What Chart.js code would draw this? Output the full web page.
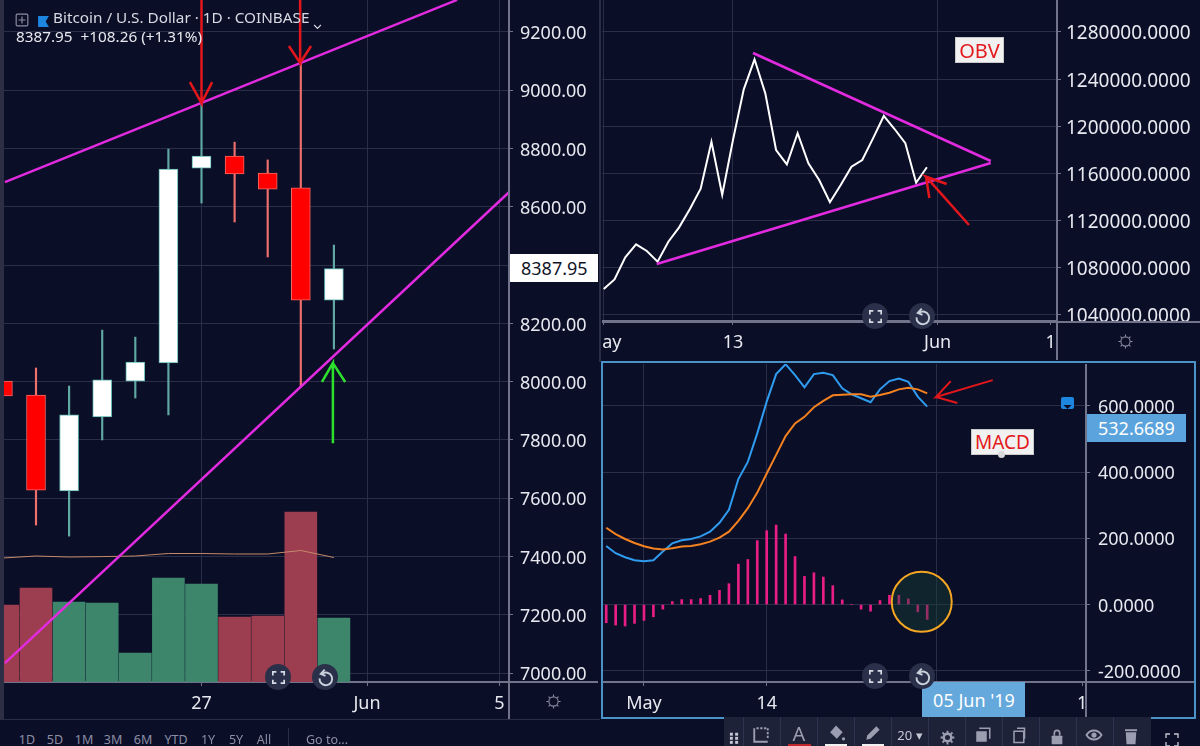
<!DOCTYPE html>
<html>
<head>
<meta charset="utf-8">
<title>BTC chart</title>
<script src="https://cdn.jsdelivr.net/npm/chart.js@4"></script>
<style>
html, body { margin: 0; padding: 0; background: #0b0e27; }
#stage { position: relative; width: 1200px; height: 746px; overflow: hidden; background: #0b0e27; font-family: "Noto Sans", sans-serif; color: #e8e9f0; }
#stage canvas { position: absolute; }
.abs { position: absolute; white-space: nowrap; }
.mid { position: absolute; white-space: nowrap; transform: translate(-50%, -50%); }
.btn { position: absolute; width: 26px; height: 26px; border-radius: 13px; background: #2a3049; transform: translate(-50%, -50%); }
.note { position: absolute; background: #f1f1f1; color: #e3191c; font-size: 20px; text-align: center; border: 1px solid #c9c9c9; box-sizing: border-box; }
</style>
</head>
<body>
<div id="stage">
  <canvas id="priceChart" style="left:4px;top:0"></canvas>
  <canvas id="obvChart" style="left:602px;top:0"></canvas>
  <canvas id="macdChart" style="left:603px;top:364px"></canvas>
</div>
<script>
// daily candles, May 2019
const candleDays = [21, 22, 23, 24, 25, 26, 27, 28, 29, 30, 31];
const opens = [8002, 7954, 7625, 7879, 8002, 8064, 8733, 8774, 8716, 8665, 8280];
const closes = [7951, 7628, 7886, 8006, 8067, 8730, 8774, 8713, 8661, 8280, 8387.95];
const highs = [8040, 8047, 7985, 8177, 8153, 8798, 8956, 8822, 8761, 9094, 8469];
const lows = [7900, 7508, 7470, 7800, 7944, 7886, 8613, 8548, 8428, 7982, 8112];
const volumes = [3850, 4700, 4000, 3950, 1450, 5200, 4900, 3250, 3300, 8500, 3200];
const volumeMa = [6200, 6300, 6250, 6270, 6300, 6425, 6425, 6400, 6400, 6575, 6225];
const priceTicks = [7000, 7200, 7400, 7600, 7800, 8000, 8200, 8400, 8600, 8800, 9000, 9200];
const priceDayTicks = [27, 32, 36];
const priceDayLabels = ['27', 'Jun', '5'];

const obvDays = [1, 2, 3, 4, 5, 6, 7, 8, 9, 10, 11, 12, 13, 14, 15, 16, 17, 18, 19, 20, 21, 22, 23, 24, 25, 26, 27, 28, 29, 30, 31];
const obvValues = [1061700, 1069800, 1088650, 1099700, 1094000, 1084900, 1101900, 1114100, 1129700, 1146900, 1186800, 1141600, 1188300, 1231300, 1256800, 1227900, 1179800, 1167600, 1194000, 1168500, 1154300, 1135400, 1150100, 1165600, 1171300, 1189700, 1208700, 1197600, 1185500, 1152000, 1165100];
const obvTicks = [1040000, 1080000, 1120000, 1160000, 1200000, 1240000, 1280000];
const obvDayTicks = [1, 13, 32, 42.5];
const obvDayLabels = ['May', '13', 'Jun', '1'];

// day 1 = 1 May, negative days run back into April
const macdDays = [-3, -2, -1, 0, 1, 2, 3, 4, 5, 6, 7, 8, 9, 10, 11, 12, 13, 14, 15, 16, 17, 18, 19, 20, 21, 22, 23, 24, 25, 26, 27, 28, 29, 30, 31];
const macdLine = [177, 155, 143, 134, 131, 134, 160, 185, 194, 198, 206, 220, 247, 286, 379, 431, 517, 613, 696, 726, 693, 656, 696, 700, 693, 653, 635, 623, 611, 650, 675, 683, 673, 628, 598];
const signalLine = [232, 213, 198, 186, 176, 169, 166, 170, 175, 177, 182, 190, 202, 220, 253, 291, 338, 396, 452, 509, 547, 567, 596, 615, 632, 634, 635, 635, 628, 633, 640, 650, 655, 650, 638];
const macdHist = [-55, -62, -65, -57, -48, -37, -14, 9, 15, 15, 18, 28, 43, 63, 122, 136, 193, 223, 240, 213, 145, 85, 96, 83, 57, 14, 0, -14, -20, 12, 28, 28, 17, -22, -45];
const macdTicks = [-200, 0, 200, 400, 600];
const macdDayTicks = [1, 14, 32, 47.4];
const macdDayLabels = ['May', '14', '', '1'];

// hand drawn lines on the charts, as [day, value]
const priceTrendUpper = [[21.06, 8685], [34.72, 9310]];
const priceTrendLower = [[21.06, 7034], [36.29, 8650]];
const priceArrowA = [[27, 9400], [27, 8956], [26.65, 9028], [27, 8956], [27.32, 9028]];
const priceArrowB = [[29.98, 9400], [29.98, 9094], [29.64, 9152], [29.98, 9094], [30.31, 9152]];
const priceArrowUp = [[30.97, 7789], [30.97, 8064], [30.64, 7999], [30.97, 8064], [31.34, 7999]];
const obvTrendUpper = [[14.86, 1262165], [36.93, 1170440]];
const obvTrendLower = [[5.92, 1082960], [36.93, 1168740]];
const obvArrow = [[34.91, 1116100], [30.92, 1157100], [32.84, 1150900], [30.92, 1157100], [31.23, 1139000]];
const macdArrow = [[37.94, 678], [31.93, 627], [33.49, 675], [31.93, 627], [34.19, 609]];
const macdCircle = [[30.42, 8.5]];

const GRID = '#2a2e49';
const AXIS = '#70738a';
const TEXT = '#e8e9f0';
const FONT = 'Noto Sans';
const MAGENTA = '#e22be0';
const ARROW_RED = '#e3171b';

function toPoints(pairs) {
    return pairs.map(p => ({ x: p[0], y: p[1] }));
}

function drawnLine(pairs, color, width, order) {
    return {
        type: 'line',
        data: toPoints(pairs),
        borderColor: color,
        borderWidth: width,
        pointRadius: 0,
        tension: 0,
        order: order
    };
}

function xAxis(min, max, ticks, labels, height, fontSize, hiddenGrid) {
    return {
        type: 'linear',
        offset: false,
        min: min,
        max: max,
        afterBuildTicks: scale => { scale.ticks = ticks.map(v => ({ value: v })); },
        afterFit: scale => { scale.height = height; scale.paddingLeft = 0; scale.paddingRight = 0; },
        border: { color: AXIS, width: 2 },
        grid: {
            offset: false,
            color: c => (c.tick && c.tick.value === hiddenGrid ? 'transparent' : GRID),
            tickColor: AXIS,
            tickLength: 4
        },
        ticks: {
            color: TEXT,
            padding: 7,
            maxRotation: 0,
            autoSkip: false,
            font: { family: FONT, size: fontSize },
            callback: v => labels[ticks.indexOf(v)]
        }
    };
}

function yAxis(min, max, ticks, width, fontSize, format, padding) {
    return {
        type: 'linear',
        position: 'right',
        min: min,
        max: max,
        afterBuildTicks: scale => { scale.ticks = ticks.map(v => ({ value: v })); },
        afterFit: scale => { scale.width = width; scale.paddingTop = 0; scale.paddingBottom = 0; },
        border: { color: AXIS, width: 2 },
        grid: { color: GRID, tickColor: AXIS, tickLength: 4 },
        ticks: {
            color: TEXT,
            padding: padding,
            autoSkip: false,
            // the empty first line nudges the text down onto its grid line
            font: { family: FONT, size: fontSize, lineHeight: '4px' },
            callback: v => ['', format(v)]
        }
    };
}

function baseOptions(scales) {
    return {
        responsive: false,
        animation: false,
        events: [],
        layout: { padding: 0, autoPadding: false },
        plugins: { legend: { display: false }, tooltip: { enabled: false } },
        scales: scales
    };
}

function setSize(id, w, h) {
    const c = document.getElementById(id);
    c.width = w;
    c.height = h;
    c.style.width = w + 'px';
    c.style.height = h + 'px';
    return c.getContext('2d');
}

function createPriceChart() {
    const up = opens.map((o, i) => closes[i] >= o);
    new Chart(setSize('priceChart', 594, 720), {
        type: 'bar',
        data: {
            datasets: [
                {
                    data: candleDays.map((d, i) => ({ x: d, y: volumes[i] })),
                    yAxisID: 'vol',
                    grouped: false,
                    barThickness: 32,
                    backgroundColor: up.map(u => (u ? '#3d866c' : '#9c3d50')),
                    order: 10
                },
                {
                    type: 'line',
                    data: candleDays.map((d, i) => ({ x: d, y: volumeMa[i] })),
                    yAxisID: 'vol',
                    borderColor: '#c48a6a',
                    borderWidth: 1,
                    pointRadius: 0,
                    order: 9
                },
                {
                    data: candleDays.map((d, i) => ({ x: d, y: [lows[i], highs[i]] })),
                    grouped: false,
                    barThickness: 1.5,
                    backgroundColor: up.map(u => (u ? '#5fa8a4' : '#ef6f6c')),
                    order: 5
                },
                {
                    data: candleDays.map((d, i) => ({ x: d, y: [opens[i], closes[i]] })),
                    grouped: false,
                    barThickness: 19,
                    borderSkipped: false,
                    borderWidth: 1,
                    backgroundColor: up.map(u => (u ? '#ffffff' : '#ff0000')),
                    borderColor: up.map(u => (u ? '#5fb8b0' : '#f46a64')),
                    order: 4
                },
                drawnLine(priceTrendUpper, MAGENTA, 2.5, 3),
                drawnLine(priceTrendLower, MAGENTA, 2.5, 3),
                drawnLine(priceArrowA, ARROW_RED, 2.5, 2),
                drawnLine(priceArrowB, ARROW_RED, 2.5, 2),
                drawnLine(priceArrowUp, '#2ce02c', 2.5, 2)
            ]
        },
        options: baseOptions({
            x: xAxis(21.033, 36.29, priceDayTicks, priceDayLabels, 38, 18),
            y: yAxis(6969.4, 9309.8, priceTicks, 89, 18, v => (v === 8400 ? '' : v.toFixed(2)), 7),
            vol: { display: false, min: 0, max: 34100 }
        })
    });
}

function createObvChart() {
    new Chart(setSize('obvChart', 598, 362), {
        type: 'line',
        data: {
            datasets: [
                {
                    data: obvDays.map((d, i) => ({ x: d, y: obvValues[i] })),
                    borderColor: '#ffffff',
                    borderWidth: 2,
                    pointRadius: 0,
                    tension: 0,
                    order: 3
                },
                drawnLine(obvTrendUpper, MAGENTA, 2.5, 2),
                drawnLine(obvTrendLower, MAGENTA, 2.5, 2),
                drawnLine(obvArrow, ARROW_RED, 2.5, 1)
            ]
        },
        options: baseOptions({
            x: xAxis(0.84, 43.08, obvDayTicks, obvDayLabels, 41, 18, 42.5),
            y: yAxis(1034548, 1307178, obvTicks, 143, 19, v => v.toFixed(4), 5)
        })
    });
}

function createMacdChart() {
    new Chart(setSize('macdChart', 592, 354), {
        type: 'bar',
        data: {
            datasets: [
                {
                    data: macdDays.map((d, i) => ({ x: d, y: macdHist[i] })),
                    grouped: false,
                    barThickness: 2,
                    backgroundColor: '#e91e84',
                    order: 5
                },
                {
                    type: 'line',
                    data: macdDays.map((d, i) => ({ x: d, y: macdLine[i] })),
                    borderColor: '#2f9cf0',
                    borderWidth: 2,
                    pointRadius: 0,
                    tension: 0,
                    order: 4
                },
                {
                    type: 'line',
                    data: macdDays.map((d, i) => ({ x: d, y: signalLine[i] })),
                    borderColor: '#f58220',
                    borderWidth: 2,
                    pointRadius: 0,
                    tension: 0,
                    order: 3
                },
                {
                    type: 'line',
                    data: toPoints(macdCircle),
                    showLine: false,
                    pointRadius: 30,
                    pointBorderWidth: 2,
                    pointBorderColor: '#f5a623',
                    pointBackgroundColor: 'rgba(22, 70, 55, 0.4)',
                    order: 2
                },
                drawnLine(macdArrow, ARROW_RED, 2, 1)
            ]
        },
        options: baseOptions({
            x: xAxis(-3.34, 47.82, macdDayTicks, macdDayLabels, 36, 18, 47.4),
            y: yAxis(-234, 726.6, macdTicks, 109, 18, v => v.toFixed(4), 8)
        })
    });
}

// chrome around the charts: toolbars, labels and buttons
const stage = document.getElementById('stage');

function box(x, y, w, h, color, extra) {
    const d = document.createElement('div');
    d.className = 'abs';
    d.style.cssText += `left:${x}px;top:${y}px;width:${w}px;height:${h}px;background:${color};${extra || ''}`;
    stage.appendChild(d);
    return d;
}

function text(str, x, y, size, color) {
    const d = document.createElement('div');
    d.className = 'mid';
    d.style.cssText += `left:${x}px;top:${y}px;font-size:${size}px;color:${color};`;
    d.textContent = str;
    stage.appendChild(d);
    return d;
}

function leftText(str, x, y, size, color) {
    const d = text(str, x, y, size, color);
    d.style.transform = 'translate(0, -50%)';
    return d;
}

function svg(x, y, size, body) {
    const d = document.createElement('div');
    d.className = 'abs';
    d.style.cssText += `left:${x - size / 2}px;top:${y - size / 2}px;width:${size}px;height:${size}px;`;
    d.innerHTML = `<svg width="${size}" height="${size}" viewBox="0 0 24 24" fill="none">${body}</svg>`;
    stage.appendChild(d);
}

const ICON_FRAME = '<path d="M4 9V4h5M15 4h5v5M20 15v5h-5M9 20H4v-5" stroke="#d8dbe6" stroke-width="2.4"/>';
const ICON_RESET = '<path d="M7.5 7.5A8 8 0 1 1 4.5 13" stroke="#c9d2dc" stroke-width="2.4"/><path d="M11 2L6 7.5l6 2.5" stroke="#c9d2dc" stroke-width="2.4"/>';
const ICON_GEAR = '<circle cx="12" cy="12" r="6.5" stroke="#8b8ea3" stroke-width="1.5"/><path d="M12 2v3M12 19v3M2 12h3M19 12h3M5 5l2 2M17 17l2 2M5 19l2-2M17 7l2-2" stroke="#8b8ea3" stroke-width="1.5"/>';
const ICON_GEAR_FILL = '<circle cx="12" cy="12" r="6" stroke="#9a9eb0" stroke-width="4"/><path d="M12 1v4M12 19v4M1 12h4M19 12h4M4 4l3 3M17 17l3 3M4 20l3-3M17 7l3-3" stroke="#9a9eb0" stroke-width="3"/>';

function chartButtons(y) {
    return x => {
        const d = document.createElement('div');
        d.className = 'btn';
        d.style.left = x + 'px';
        d.style.top = y + 'px';
        stage.appendChild(d);
    };
}

function addChrome() {
    // panel edges
    box(0, 0, 4, 720, '#2b2e45');
    box(508, 0, 2, 720, AXIS);
    box(4, 719, 596, 1, '#2a2d46');
    box(599, 0, 2, 362, '#2a2d46');
    box(1056, 0, 2, 360, AXIS);
    box(602, 321, 598, 2, AXIS);
    box(1085, 364, 2, 354, AXIS);
    box(603, 681, 592, 2, AXIS);
    box(510, 681, 88, 2, AXIS);
    box(1058, 323, 142, 10, '#0b0e27');
    box(601, 361, 595, 358, 'transparent', 'border:2px solid #4a93c9;box-sizing:border-box;');

    // header
    svg(22, 17, 14, '<rect x="2" y="2" width="20" height="20" rx="2" stroke="#8b8ea3" stroke-width="2"/><path d="M12 6v12M6 12h12" stroke="#8b8ea3" stroke-width="2"/>');
    svg(43, 17, 13, '<path d="M2 2h20l-6 10 6 10H2z" fill="#1d86e0"/>');
    leftText('Bitcoin / U.S. Dollar \u00b7 1D \u00b7 COINBASE', 53, 17, 15.3, '#d8d9e2');
    svg(317, 18, 9, '<path d="M3 8l9 9 9-9" stroke="#d8d9e2" stroke-width="3"/>');
    leftText('8387.95  +108.26 (+1.31%)', 16, 36, 15.3, '#e8e9f0').style.whiteSpace = 'pre';

    // price labels on the axes
    box(510, 254, 88, 28, '#ffffff');
    leftText('8387.95', 521, 268, 18, '#111428');
    box(1087, 414, 99, 28, '#5ba3dc');
    leftText('532.6689', 1098, 428, 18, '#ffffff');
    box(922, 682, 103, 35, '#64a8dc');
    text("05 Jun '19", 974, 700, 18, '#ffffff');
    box(1061, 397, 13, 12, '#1d86e0', 'border-radius:2px;');
    svg(1067.5, 403, 11, '<path d="M3 2h18L12 11zM3 22h18l-9-9z" fill="#0b0e27"/>');

    // text notes
    const obv = document.createElement('div');
    obv.className = 'note';
    obv.style.cssText += 'left:955px;top:37px;width:49px;height:26px;line-height:25px;';
    obv.textContent = 'OBV';
    stage.appendChild(obv);
    const macd = document.createElement('div');
    macd.className = 'note';
    macd.style.cssText += 'left:971px;top:429px;width:63px;height:26px;line-height:25px;font-size:19px;';
    macd.textContent = 'MACD';
    stage.appendChild(macd);
    box(998, 451, 7, 7, '#d8d8dc', 'border-radius:4px;');

    // floating chart buttons
    [[278, 677, 325], [875, 316, 922], [875, 676, 922]].forEach(p => {
        const add = chartButtons(p[1]);
        add(p[0]);
        add(p[2]);
        svg(p[0], p[1], 17, ICON_FRAME);
        svg(p[2], p[1], 19, ICON_RESET);
    });

    svg(553, 701, 17, ICON_GEAR);
    svg(1125, 341, 17, ICON_GEAR);

    // date range row
    const ranges = ['1D', '5D', '1M', '3M', '6M', 'YTD', '1Y', '5Y', 'All'];
    const rangeX = [27, 55, 84, 113, 143, 176, 208, 236, 264];
    ranges.forEach((r, i) => text(r, rangeX[i], 739, 12.5, '#8b8fa5'));
    box(288, 728, 1, 18, '#2a2d46');
    text('Go to...', 327, 739, 12.5, '#8b8fa5');

    // drawing toolbar
    box(724, 717, 427, 29, '#1e2239');
    [743, 780, 817, 854, 891, 928, 965, 1002, 1039, 1076, 1113].forEach(x => box(x, 717, 1, 29, '#2e3350'));
    svg(734, 735, 14, '<g fill="#c5c8d4"><rect x="5" y="3" width="5" height="5"/><rect x="14" y="3" width="5" height="5"/><rect x="5" y="10" width="5" height="5"/><rect x="14" y="10" width="5" height="5"/><rect x="5" y="17" width="5" height="5"/><rect x="14" y="17" width="5" height="5"/></g>');
    svg(761, 735, 18, '<path d="M3 3v18h18" stroke="#9a9eb0" stroke-width="2.5"/><path d="M6 3h15v15" stroke="#9a9eb0" stroke-width="2.5" stroke-dasharray="3 2"/>');
    text('A', 799, 733, 20, '#9a9eb0');
    box(788, 744, 23, 2, '#c0272d');
    svg(836, 733, 20, '<path d="M12 3l8 8-7 8-8-8z" fill="#9a9eb0"/><circle cx="21" cy="19" r="2" fill="#9a9eb0"/>');
    box(825, 744, 22, 2, '#f0f0f0');
    svg(873, 733, 20, '<path d="M4 20l1-5L16 4l4 4L9 19z" fill="#9a9eb0"/>');
    box(862, 744, 22, 2, '#f0f0f0');
    text('20 \u25be', 910, 735, 13, '#c5c8d4');
    svg(947, 735, 15, ICON_GEAR_FILL);
    svg(983, 735, 18, '<rect x="3" y="7" width="14" height="14" fill="#9a9eb0"/><path d="M7 3h14v14" stroke="#9a9eb0" stroke-width="2"/>');
    svg(1020, 735, 18, '<rect x="4" y="7" width="13" height="15" stroke="#9a9eb0" stroke-width="2"/><path d="M8 3h10v14" stroke="#9a9eb0" stroke-width="2"/>');
    svg(1057, 736, 16, '<rect x="4" y="10" width="16" height="13" rx="1" fill="#9a9eb0"/><path d="M8 10V6a4 4 0 0 1 8 0v4" stroke="#9a9eb0" stroke-width="2.5"/>');
    svg(1094, 735, 18, '<path d="M2 12c5-8 15-8 20 0-5 8-15 8-20 0z" stroke="#9a9eb0" stroke-width="2.5"/><circle cx="12" cy="12" r="3.5" fill="#9a9eb0"/>');
    svg(1131, 736, 18, '<path d="M5 7h14l-1 16H6z" fill="#9a9eb0"/><rect x="4" y="3" width="16" height="2.5" fill="#9a9eb0"/>');
    svg(1172, 739, 16, '<path d="M3 9V3h6M15 3h6v6M3 15v6h6M21 15v6h-6" stroke="#c5c8d4" stroke-width="2"/>');
}

createPriceChart();
createObvChart();
createMacdChart();
addChrome();
</script>
</body>
</html>
